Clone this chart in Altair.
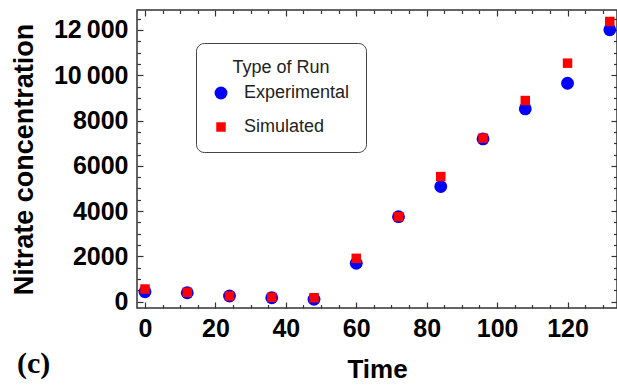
import altair as alt
import pandas as pd

# ---- data ----
time = [0, 12, 24, 36, 48, 60, 72, 84, 96, 108, 120, 132]
experimental = [440, 395, 250, 175, 105, 1695, 3755, 5085, 7190, 8515, 9650, 12010]
simulated = [560, 415, 250, 195, 175, 1915, 3755, 5525, 7225, 8885, 10535, 12375]
run_types = ["Experimental", "Simulated"]

x_major = [0, 20, 40, 60, 80, 100, 120]
x_minor = [v for v in range(0, 135, 5) if v % 20 != 0]
y_major = [0, 2000, 4000, 6000, 8000, 10000, 12000]
y_minor = [v for v in range(0, 13000, 500) if v % 2000 != 0]

rows = []
for t, e, s in zip(time, experimental, simulated):
    rows.append({"Time": t, "Value": e, "Type": run_types[0]})
    rows.append({"Time": t, "Value": s, "Type": run_types[1]})
df = pd.DataFrame(rows)

X_DOMAIN = [-2.27, 134.05]
Y_DOMAIN = [-278, 12883]
xs = alt.Scale(domain=X_DOMAIN, nice=False, zero=False)
ys = alt.Scale(domain=Y_DOMAIN, nice=False, zero=False)

FONT = "Liberation Sans"
TICK_COLOR = "#333333"

x_label_axis = alt.Axis(
    orient="bottom", values=x_major, ticks=False, tickSize=0, domain=False, grid=False,
    labelFont=FONT, labelFontSize=25, labelFontWeight="bold", labelColor="black",
    labelPadding=8, labelFlush=False, labelOverlap=False,
    title="Time", titleFont=FONT, titleFontSize=26, titleFontWeight="bold",
    titleColor="black", titlePadding=15,
)
y_label_axis = alt.Axis(
    orient="left", values=y_major, ticks=False, tickSize=0, domain=False, grid=False,
    labelFont=FONT, labelFontSize=25, labelFontWeight="bold", labelColor="black",
    labelPadding=9, labelFlush=False, labelOverlap=False,
    labelExpr="datum.value >= 10000 ? format(datum.value / 1000, 'd') + '\u2009000' : format(datum.value, 'd')",
    title="Nitrate concentration", titleFont=FONT, titleFontSize=27, titleFontWeight="bold",
    titleColor="black", titlePadding=15,
)

points = alt.Chart(df).mark_point(filled=True, opacity=1).encode(
    x=alt.X("Time:Q", scale=xs, axis=x_label_axis),
    y=alt.Y("Value:Q", scale=ys, axis=y_label_axis),
    color=alt.Color("Type:N", scale=alt.Scale(domain=run_types, range=["#0000FF", "#FF0000"]),
                    title="Type of Run"),
    shape=alt.Shape("Type:N", scale=alt.Scale(domain=run_types, range=["circle", "square"]),
                    title="Type of Run"),
    size=alt.Size("Type:N", scale=alt.Scale(domain=run_types, range=[165, 90]),
                  title="Type of Run",
                  legend=alt.Legend(
                      orient="none", legendX=59, legendY=33,
                      fillColor="white", strokeColor="#444444", cornerRadius=8,
                      padding=16, titleAnchor="middle", titlePadding=7,
                      titleFont=FONT, titleFontSize=18, titleFontWeight="normal",
                      titleColor="#222222",
                      labelFont=FONT, labelFontSize=18, labelColor="#222222",
                      labelOffset=14, rowPadding=16, symbolStrokeWidth=0,
                  )),
    order=alt.Order("Type:N"),
)


def tick_layer(orient_x, orient_y, xv, yv, size):
    ax = alt.Axis(orient=orient_x, values=xv, ticks=True, tickSize=size, offset=-size,
                  tickColor=TICK_COLOR, tickWidth=1.2, domain=False, labels=False,
                  grid=False, title=None)
    ay = alt.Axis(orient=orient_y, values=yv, ticks=True, tickSize=size, offset=-size,
                  tickColor=TICK_COLOR, tickWidth=1.2, domain=False, labels=False,
                  grid=False, title=None)
    return alt.Chart(df).mark_point(opacity=0).encode(
        x=alt.X("Time:Q", scale=xs, axis=ax),
        y=alt.Y("Value:Q", scale=ys, axis=ay),
    )


ticks = [
    tick_layer("bottom", "left", x_major, y_major, 6),
    tick_layer("bottom", "left", x_minor, y_minor, 3.5),
    tick_layer("top", "right", x_major, y_major, 6),
    tick_layer("top", "right", x_minor, y_minor, 3.5),
]

panel = alt.Chart(pd.DataFrame({"t": ["(c)"]})).mark_text(
    font="Liberation Serif", fontSize=30, fontWeight="bold", color="black",
    align="left", baseline="alphabetic",
).encode(text="t:N", x=alt.value(-120), y=alt.value(363))

chart = alt.layer(*ticks, points, panel).resolve_axis(
    x="independent", y="independent"
).properties(
    width=480, height=298,
    autosize=alt.AutoSizeParams(type="none"),
    padding={"left": 137, "top": 10, "right": 0, "bottom": 79},
    background="white",
).configure_view(stroke="#333333", strokeWidth=1.5)

chart.save("out.html", embed_options={"renderer": "svg", "actions": False})
